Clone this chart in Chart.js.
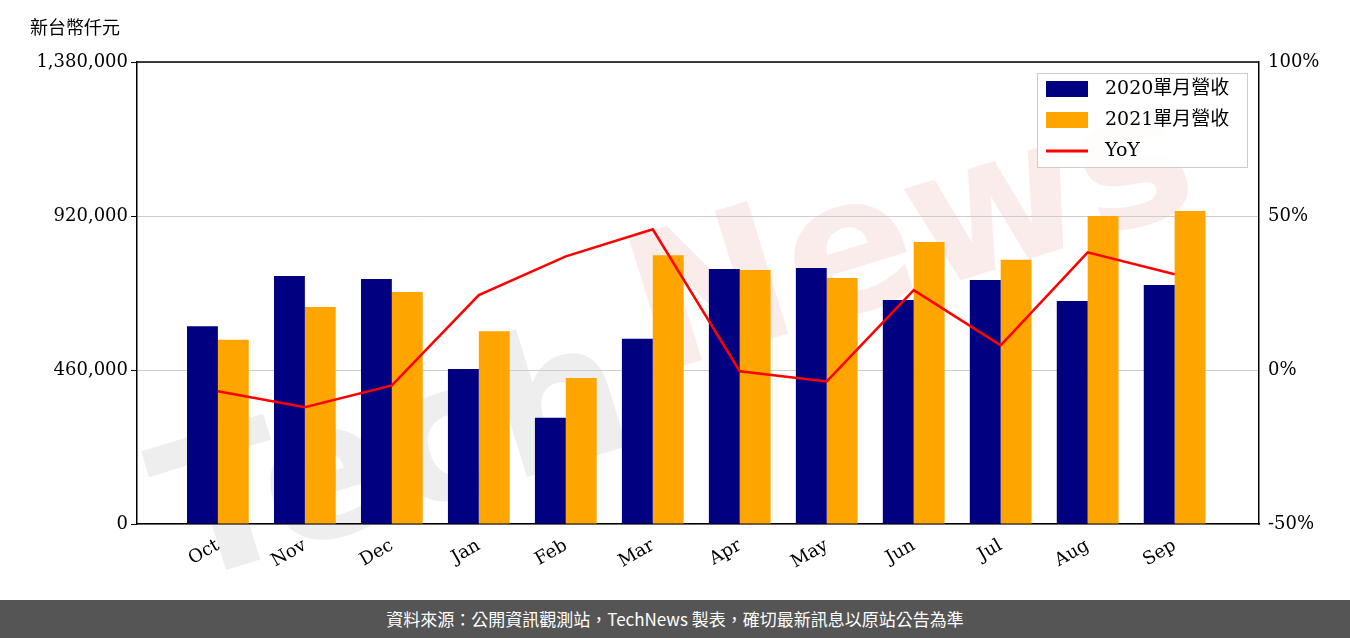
<!DOCTYPE html>
<html><head><meta charset="utf-8">
<script src="https://cdn.jsdelivr.net/npm/chart.js@4"></script>
<style>
body{margin:0;width:1350px;height:638px;background:#fff;overflow:hidden;font-family:"Noto Sans CJK TC",sans-serif}
#wrap{position:relative;width:1350px;height:600px}
#foot{height:38px;background:#555;color:#fff;font-size:17px;text-align:center;line-height:38px;font-family:"Noto Sans CJK TC"}
</style></head><body>
<div id="wrap"><canvas id="c" width="1350" height="600"></canvas></div>
<div id="foot">資料來源：公開資訊觀測站，TechNews 製表，確切最新訊息以原站公告為準</div>
<script>
const months = ['Oct','Nov','Dec','Jan','Feb','Mar','Apr','May','Jun','Jul','Aug','Sep'];
const rev2020 = [591000,741000,732000,463000,317000,553000,762000,765000,669000,729000,666000,714000];
const rev2021 = [550000,648000,693000,576000,436000,803000,759000,735000,842000,789000,920000,935000];
const yoy = [-6.9,-12.1,-5.0,24.3,36.9,45.7,-0.4,-3.7,25.9,8.0,38.2,31.1];
const leftTicks = [0,460000,920000,1380000];
const rightTicks = [-50,0,50,100];
const fnt = {family:'"DejaVu Serif","Noto Sans CJK TC"', size:18};
const pts = arr => arr.map((v,i)=>({x:i,y:v}));

const extras = {
  id:'extras',
  beforeDraw(ch){
    const c=ch.ctx; c.save();
    c.translate(700,330); c.rotate(-0.3);
    c.font='bold 190px "DejaVu Sans"'; c.textAlign='center'; c.textBaseline='middle';
    c.fillStyle='rgba(200,200,200,0.3)'; c.fillText('Tech',-330,40);
    c.fillStyle='rgba(240,180,180,0.25)'; c.fillText('News',230,-20);
    c.restore();
  },
  afterDraw(ch){
    const c=ch.ctx, a=ch.chartArea; c.save();
    c.strokeStyle='#000'; c.lineWidth=1.5; c.beginPath(); c.moveTo(a.left,a.top); c.lineTo(a.right,a.top); c.stroke();
    c.fillStyle='#000'; c.font='18px "Noto Sans CJK TC"'; c.textBaseline='middle';
    c.fillText('新台幣仟元',30,27);
    const x=1037,y=73,w=210,h=94;
    c.fillStyle='rgba(255,255,255,0.85)'; c.fillRect(x,y,w,h);
    c.strokeStyle='#ccc'; c.lineWidth=1; c.strokeRect(x+.5,y+.5,w,h);
    const items=[['box','#000080','2020單月營收'],['box','#ffa500','2021單月營收'],['line','#ff0000','YoY']];
    c.font='19px "DejaVu Serif","Noto Sans CJK TC"';
    items.forEach((it,i)=>{
      const yy=y+16+i*31;
      if(it[0]=='box'){c.fillStyle=it[1];c.fillRect(x+9,yy-8,42,16);}
      else{c.strokeStyle=it[1];c.lineWidth=3;c.beginPath();c.moveTo(x+9,yy);c.lineTo(x+51,yy);c.stroke();}
      c.fillStyle='#000'; c.fillText(it[2],x+68,yy);
    });
    c.restore();
  }
};

new Chart(document.getElementById('c'),{
  data:{datasets:[
    {type:'line',label:'YoY',data:pts(yoy),yAxisID:'y2',borderColor:'#ff0000',borderWidth:2.5,pointRadius:0,tension:0,order:0},
    {type:'bar',label:'2020單月營收',data:pts(rev2020),backgroundColor:'#000080',yAxisID:'y',barPercentage:1,categoryPercentage:0.71,order:1},
    {type:'bar',label:'2021單月營收',data:pts(rev2021),backgroundColor:'#ffa500',yAxisID:'y',barPercentage:1,categoryPercentage:0.71,order:1}
  ]},
  options:{responsive:false,animation:false,
    layout:{padding:{left:0,right:0,top:62,bottom:0}},
    plugins:{legend:{display:false},tooltip:{enabled:false}},
    scales:{
      x:{type:'linear',offset:false,min:-0.93,max:11.97,grid:{display:false},border:{color:'#000',width:1.5},
        afterBuildTicks:a=>{a.ticks=months.map((_,i)=>({value:i}));},
        afterFit:a=>{a.height=76;},
        ticks:{color:'#000',font:fnt,maxRotation:30,minRotation:30,autoSkip:false,callback:v=>months[v]}},
      y:{position:'left',min:0,max:1380000,afterBuildTicks:a=>{a.ticks=leftTicks.map(v=>({value:v}));},
        afterFit:a=>{a.width=137;},
        grid:{color:'#ccc',tickColor:'#000',tickLength:6},border:{color:'#000',width:1.5},
        ticks:{color:'#000',font:fnt,callback:v=>v.toLocaleString('en-US')}},
      y2:{position:'right',min:-50,max:100,afterBuildTicks:a=>{a.ticks=rightTicks.map(v=>({value:v}));},
        afterFit:a=>{a.width=91;},
        grid:{display:false,tickColor:'#000',tickLength:6},border:{color:'#000',width:1.5},
        ticks:{color:'#000',font:fnt,callback:v=>v+'%'}}
    }},
  plugins:[extras]
});
</script></body></html>
